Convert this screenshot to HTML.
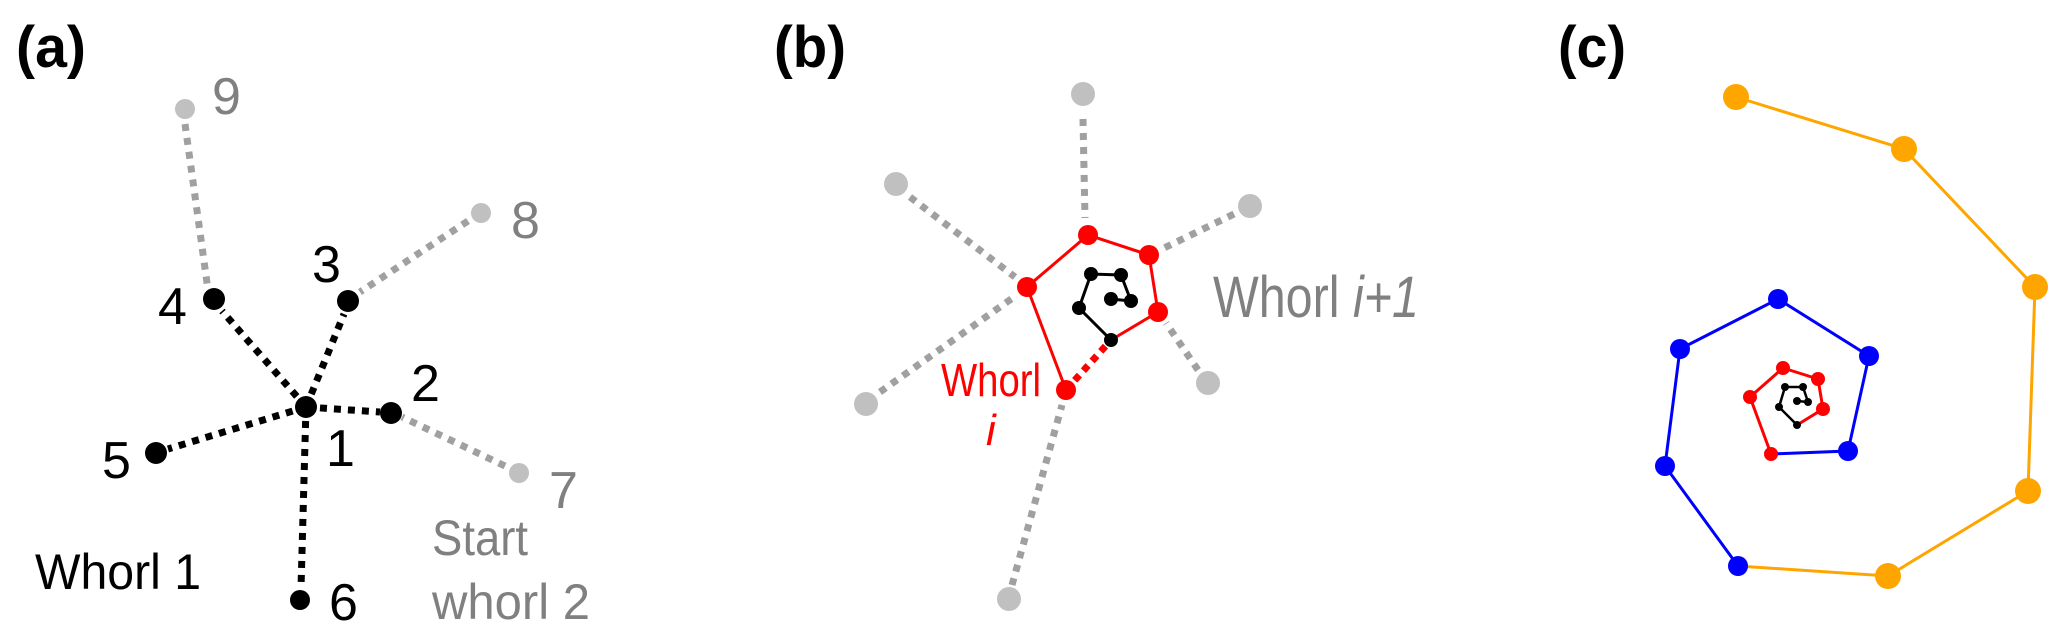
<!DOCTYPE html>
<html><head><meta charset="utf-8"><style>
html,body{margin:0;padding:0;background:#fff;}
svg{display:block;}
text{font-family:"Liberation Sans",sans-serif;}
</style></head><body>
<svg width="2067" height="637" viewBox="0 0 2067 637" xmlns="http://www.w3.org/2000/svg">
<!-- (a) -->
<text x="16" y="67" font-size="58" font-weight="bold" textLength="70" lengthAdjust="spacingAndGlyphs">(a)</text>
<g stroke="#a0a0a0" stroke-width="7" stroke-dasharray="7 7" fill="none">
<line x1="185" y1="124" x2="208" y2="290"/>
<line x1="468" y1="221" x2="360" y2="292"/>
<line x1="505" y1="466" x2="402" y2="417"/>
</g>
<g stroke="#000" stroke-width="7" stroke-dasharray="7 7" fill="none">
<line x1="306" y1="407" x2="380" y2="412"/>
<line x1="306" y1="407" x2="344" y2="314"/>
<line x1="306" y1="407" x2="222" y2="311"/>
<line x1="306" y1="407" x2="168" y2="449"/>
<line x1="306" y1="407" x2="301" y2="588"/>
</g>
<g fill="#000">
<circle cx="306" cy="407" r="11"/><circle cx="391" cy="413" r="11"/><circle cx="348" cy="301" r="11"/>
<circle cx="214" cy="299" r="11"/><circle cx="156" cy="453" r="11"/><circle cx="300" cy="600" r="10"/>
</g>
<g fill="#c0c0c0">
<circle cx="519" cy="473" r="10"/><circle cx="481" cy="213" r="10"/><circle cx="185" cy="109" r="10"/>
</g>
<g font-size="52" fill="#000">
<text x="312" y="282">3</text><text x="158" y="324">4</text><text x="411" y="401">2</text>
<text x="326" y="466">1</text><text x="102" y="478">5</text><text x="329" y="620">6</text>
<text x="35" y="589" font-size="50" textLength="166" lengthAdjust="spacingAndGlyphs">Whorl 1</text>
</g>
<g font-size="52" fill="#808080">
<text x="212" y="114">9</text><text x="511" y="238">8</text><text x="549" y="508">7</text>
<text x="432" y="555" font-size="50" textLength="96" lengthAdjust="spacingAndGlyphs">Start</text>
<text x="432" y="619" font-size="50" textLength="158" lengthAdjust="spacingAndGlyphs">whorl 2</text>
</g>

<!-- (b) -->
<text x="774" y="67" font-size="58" font-weight="bold" textLength="72" lengthAdjust="spacingAndGlyphs">(b)</text>
<g stroke="#a0a0a0" stroke-width="7" stroke-dasharray="7 7" fill="none">
<line x1="1083" y1="119" x2="1085" y2="218"/>
<line x1="910" y1="197" x2="1015" y2="277"/>
<line x1="1234" y1="214" x2="1162" y2="249"/>
<line x1="880" y1="392" x2="1014" y2="297"/>
<line x1="1198" y1="370" x2="1166" y2="323"/>
<line x1="1012" y1="585" x2="1062" y2="405"/>
</g>
<polyline points="1066,390 1027,287 1088,235 1149,255 1158,312 1111,340" fill="none" stroke="#ff0000" stroke-width="3"/>
<line x1="1066" y1="390" x2="1111" y2="340" stroke="#ff0000" stroke-width="7" stroke-dasharray="7 6"/>
<polyline points="1111,340 1079,308 1091,274 1121,275 1131,301 1111,299" fill="none" stroke="#000" stroke-width="3"/>
<g fill="#c0c0c0">
<circle cx="1083" cy="94" r="12"/><circle cx="896" cy="184" r="12"/><circle cx="1250" cy="206" r="12"/>
<circle cx="866" cy="404" r="12"/><circle cx="1208" cy="383" r="12"/><circle cx="1009" cy="599" r="12"/>
</g>
<g fill="#ff0000">
<circle cx="1088" cy="235" r="10"/><circle cx="1149" cy="255" r="10"/><circle cx="1027" cy="287" r="10"/>
<circle cx="1158" cy="312" r="10"/><circle cx="1066" cy="390" r="10"/>
</g>
<g fill="#000">
<circle cx="1091" cy="274" r="7"/><circle cx="1121" cy="275" r="7"/><circle cx="1079" cy="308" r="7"/>
<circle cx="1111" cy="340" r="7"/><circle cx="1111" cy="299" r="7"/><circle cx="1131" cy="301" r="7"/>
</g>
<text x="941" y="396" font-size="46" fill="#ff0000" textLength="100" lengthAdjust="spacingAndGlyphs">Whorl</text>
<text x="986" y="445" font-size="44" fill="#ff0000" font-style="italic">i</text>
<text x="1213" y="317" font-size="58" fill="#808080" textLength="206" lengthAdjust="spacingAndGlyphs">Whorl <tspan font-style="italic">i+1</tspan></text>

<!-- (c) -->
<text x="1558" y="67" font-size="58" font-weight="bold" textLength="68" lengthAdjust="spacingAndGlyphs">(c)</text>
<polyline points="1738,566 1888,576 2028,491 2035,287 1904,149 1736,97" fill="none" stroke="#ffa500" stroke-width="3"/>
<polyline points="1738,566 1665,466 1680,349 1778,299 1869,356 1848,451 1771,454" fill="none" stroke="#0000ff" stroke-width="3"/>
<polyline points="1771,454 1750,397 1783,368 1818,379 1823,409 1797,425" fill="none" stroke="#ff0000" stroke-width="3"/>
<polyline points="1797,425 1779,407 1785,387 1803,387 1808,402 1797,401" fill="none" stroke="#000" stroke-width="2.5"/>
<g fill="#ffa500">
<circle cx="1736" cy="97" r="13"/><circle cx="1904" cy="149" r="13"/><circle cx="2035" cy="287" r="13"/>
<circle cx="2028" cy="491" r="13"/><circle cx="1888" cy="576" r="13"/>
</g>
<g fill="#0000ff">
<circle cx="1738" cy="566" r="10"/><circle cx="1665" cy="466" r="10"/><circle cx="1680" cy="349" r="10"/>
<circle cx="1778" cy="299" r="10"/><circle cx="1869" cy="356" r="10"/><circle cx="1848" cy="451" r="10"/>
</g>
<g fill="#ff0000">
<circle cx="1771" cy="454" r="7"/><circle cx="1750" cy="397" r="7"/><circle cx="1783" cy="368" r="7"/>
<circle cx="1818" cy="379" r="7"/><circle cx="1823" cy="409" r="7"/>
</g>
<g fill="#000">
<circle cx="1797" cy="425" r="4"/><circle cx="1779" cy="407" r="4"/><circle cx="1785" cy="387" r="4"/>
<circle cx="1803" cy="387" r="4"/><circle cx="1808" cy="402" r="4"/><circle cx="1797" cy="401" r="4"/>
</g>
</svg>
</body></html>
